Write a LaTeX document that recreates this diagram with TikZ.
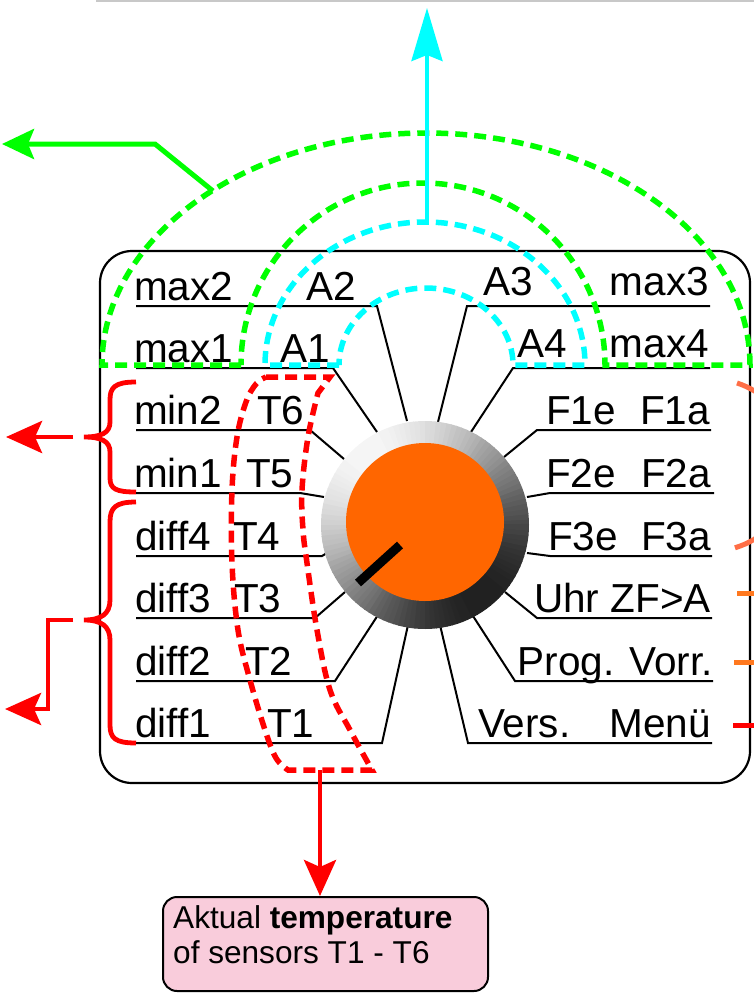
\documentclass[tikz,border=0pt]{standalone}
\usepackage{fontspec}
\setmainfont{Liberation Sans}
\usetikzlibrary{arrows.meta}
\definecolor{knoborange}{RGB}{255,102,0}
\definecolor{notepink}{RGB}{249,204,219}
\definecolor{zonegreen}{RGB}{0,255,0}
\definecolor{zonecyan}{RGB}{0,255,255}
\definecolor{zonered}{RGB}{255,0,0}
\definecolor{markcoral}{RGB}{255,110,70}
\definecolor{markorange}{RGB}{255,120,30}
\definecolor{framegray}{RGB}{200,200,200}
\tikzset{
  lbl/.style={font=\fontsize{40.5}{48}\selectfont, inner sep=0pt, anchor=base west},
  lblr/.style={lbl, anchor=base east},
  leader/.style={line width=2pt, black},
  zone/.style={line width=5.5pt, dash pattern=on 12pt off 7pt},
  signal/.style={line width=5pt},
  bigtip/.tip={Stealth[length=36pt,width=32pt,inset=7pt]},
  uptip/.tip={Stealth[length=53pt,width=31pt,inset=6pt]},
}
\begin{document}
\begin{tikzpicture}[x=1pt,y=-1pt]
\useasboundingbox (0,0) rectangle (754,993);

% thin frame line along the top
\draw[framegray, line width=2pt] (96,1) -- (754,1);

% housing of the controller
\node[draw, line width=2.2pt, rounded corners=32pt, minimum width=650pt, minimum height=532pt, inner sep=0pt] (housing) at (425,517) {};

% labels, left column
\node[lbl] (max2)  at (134,300) {max2};
\node[lbl] (a2)    at (306,300) {A2};
\node[lbl] (max1)  at (134,362) {max1};
\node[lbl] (a1)    at (280,362) {A1};
\node[lbl] (min2)  at (134,424) {min2};
\node[lbl] (t6)    at (257,424) {T6};
\node[lbl] (min1)  at (134,487) {min1};
\node[lbl] (t5)    at (246,487) {T5};
\node[lbl] (diff4) at (135,550) {diff4};
\node[lbl] (t4)    at (233,550) {T4};
\node[lbl] (diff3) at (135,612) {diff3};
\node[lbl] (t3)    at (234,612) {T3};
\node[lbl] (diff2) at (135,675) {diff2};
\node[lbl] (t2)    at (245,675) {T2};
\node[lbl] (diff1) at (135,737) {diff1};
\node[lbl] (t1)    at (267,737) {T1};

% labels, right column
\node[lbl]  (a3)   at (483,295) {A3};
\node[lblr] (max3) at (709,295) {max3};
\node[lbl]  (a4)   at (517,357) {A4};
\node[lblr] (max4) at (709,357) {max4};
\node[lbl]  (f1e)  at (546,424) {F1e};
\node[lblr] (f1a)  at (710,424) {F1a};
\node[lbl]  (f2e)  at (546,487) {F2e};
\node[lblr] (f2a)  at (711,487) {F2a};
\node[lbl]  (f3e)  at (548,550) {F3e};
\node[lblr] (f3a)  at (711,550) {F3a};
\node[lblr] (uhr)  at (711,612) {Uhr ZF>A};
\node[lblr] (prog) at (713,675) {Prog. Vorr.};
\node[lbl]  (vers) at (478,737) {Vers.};
\node[lblr] (menu) at (711,737) {Menü};

% underlines and leader lines to the knob, left
\draw[leader] (136,306) -- (377,306) -- (407,421);
\draw[leader] (136,368) -- (333,368) -- (377,432);
\draw[leader] (136,430) -- (310,430) -- (344,459);
\draw[leader] (136,493) -- (300,493) -- (324,497);
\draw[leader] (136,556) -- (322,556) -- (327,553);
\draw[leader] (136,618) -- (315,618) -- (345,592);
\draw[leader] (136,681) -- (335,681) -- (378,615);
\draw[leader] (136,743) -- (382,743) -- (408,625);

% underlines and leader lines to the knob, right
\draw[leader] (710,306) -- (467,306) -- (438,422);
\draw[leader] (710,368) -- (513,368) -- (471,432);
\draw[leader] (711,430) -- (537,430) -- (504,457);
\draw[leader] (714,493) -- (550,493) -- (527,497);
\draw[leader] (712,556) -- (550,556) -- (527,553);
\draw[leader] (712,618) -- (537,618) -- (505,592);
\draw[leader] (713,681) -- (515,681) -- (473,616);
\draw[leader] (712,743) -- (468,743) -- (440,625);

% rotary knob: shaded ring, orange cap and pointer
\node[circle, minimum size=208pt, inner sep=0pt] (knob) at (425,525) {};
\foreach \a in {0,3,...,357}{
  \pgfmathtruncatemacro\lev{100*(0.55+0.42*cos(\a+1.5-129))}
  \fill[white!\lev!black] (knob.center) -- ++(\a:104pt)
    arc[start angle=\a, end angle=\a+3.6, radius=104pt] -- cycle;
}
\fill[knoborange] (425,522) circle[radius=79pt];
\draw[line width=9pt] (400,545) -- (358,583);

% max zone (green) and A zone (cyan)
\draw[zone, zonegreen] (241,365) -- (102,365)
  arc[start angle=180, end angle=0, x radius=324pt, y radius=232pt]
  -- (605,365) arc[start angle=0, end angle=180, radius=182pt] -- cycle;
\draw[zone, zonecyan] (339,365) -- (265,365)
  arc[start angle=180, end angle=0, x radius=160pt, y radius=143pt]
  -- (513,365) arc[start angle=0, end angle=180, x radius=87pt, y radius=77pt] -- cycle;

% sensor zone (red)
\draw[zone, zonered] (266,377) -- (330,377) -- (318,393)
  -- plot[smooth, tension=0.6] coordinates {(318,393) (308,437) (302,490) (303,530) (307,563) (317,630) (330,690) (350,730) (372,770)}
  -- (288,770)
  -- plot[smooth, tension=0.6] coordinates {(288,770) (276,758) (265,730) (250,680) (238,630) (232,563) (232,490) (237,437) (246,402) (256,384) (266,377)}
  -- cycle;

% outgoing arrows
\coordinate (greenfoot) at (213,191);
\draw[signal, zonegreen, -{Stealth[length=32pt,width=30pt,inset=6pt]}] (greenfoot) -- (155,144) -- (2,144);
\coordinate (cyanfoot) at (427,222);
\draw[line width=4pt, zonecyan, -uptip] (cyanfoot) -- (427,8);

% braces grouping min and diff rows
\draw[line width=4.8pt, zonered] (136,382) .. controls (114,382) and (110,388) .. (110,400) -- (110,422)
  .. controls (110,433) and (101,437) .. (84,437)
  .. controls (101,437) and (110,441) .. (110,452) -- (110,478)
  .. controls (110,489) and (116,492) .. (136,492);
\draw[line width=4.8pt, zonered] (136,502) .. controls (115,502) and (110,508) .. (110,522) -- (110,600)
  .. controls (110,614) and (101,620) .. (84,620)
  .. controls (101,620) and (110,626) .. (110,640) -- (110,725)
  .. controls (110,738) and (115,743) .. (136,743);
\coordinate (minfoot) at (73,437);
\coordinate (difffoot) at (73,620);
\draw[line width=4.8pt, zonered, -bigtip] (minfoot) -- (6,437);
\draw[line width=4.8pt, zonered, -bigtip] (difffoot) -- (48,620) -- (48,709) -- (5,709);

% marks running off to the right
\draw[signal, markcoral] (737,383) arc[start angle=71.8, end angle=-73.2, radius=86.4pt];
\draw[signal, markorange] (737,593) -- (760,593);
\draw[signal, markorange] (734,662) -- (760,662);
\draw[signal, zonered] (733,725) -- (760,725);

% note box for the sensor temperatures
\node[draw, line width=2pt, fill=notepink, rounded corners=14pt, minimum width=325pt, minimum height=94pt, inner sep=0pt] (note) at (325.5,944) {};
\node[font=\fontsize{31.6}{37}\selectfont, inner sep=0pt, anchor=base west] (noteA) at (173,928) {Aktual \textbf{temperature}};
\node[font=\fontsize{31.6}{37}\selectfont, inner sep=0pt, anchor=base west] (noteB) at (173,963) {of sensors T1 - T6};
\coordinate (sensorfoot) at (320,770);
\draw[line width=4.5pt, zonered, -bigtip] (sensorfoot) -- (sensorfoot |- note.north);
\end{tikzpicture}
\end{document}
